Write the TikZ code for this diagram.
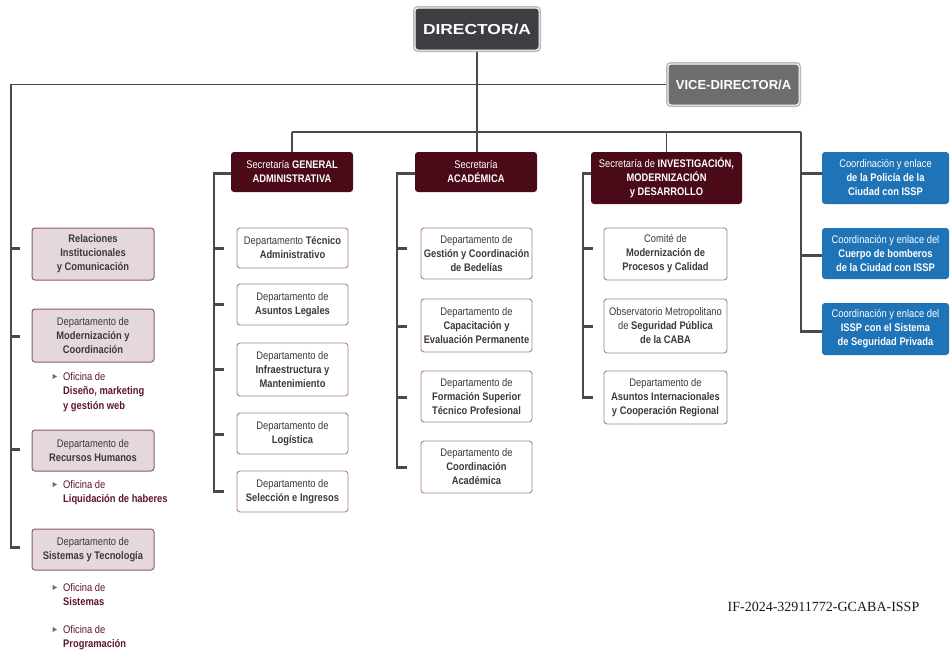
\documentclass[tikz,border=0pt]{standalone}
\usepackage{fontspec}
\setmainfont{Liberation Sans}[FakeStretch=0.85]
\newfontfamily\widefont{Liberation Sans}[FakeStretch=1.2]
\newfontfamily\plainfont{Liberation Sans}
\newfontfamily\serifont{Liberation Serif}
\definecolor{dirdark}{HTML}{3C3E42}
\definecolor{vicegray}{HTML}{6D6D6D}
\definecolor{secred}{HTML}{4B0A17}
\definecolor{lcfill}{HTML}{E5D8DC}
\definecolor{lcdraw}{HTML}{8E5A67}
\definecolor{deptdraw}{HTML}{A9808A}
\definecolor{blueone}{HTML}{1F73B7}
\definecolor{linegray}{HTML}{4A4A4A}
\definecolor{txtgray}{HTML}{3A3A3A}
\definecolor{ofired}{HTML}{5E1726}
\pgfdeclarelayer{bg}
\pgfsetlayers{bg,main}
\begin{document}
\begin{tikzpicture}[x=1pt,y=-1pt,
  basebox/.style={inner sep=0pt, align=center, rounded corners=3pt, font=\fontsize{11}{14}\selectfont},
  secbox/.style={basebox, fill=secred, text=white},
  deptbox/.style={basebox, fill=white, draw=deptdraw, line width=0.9pt, text=txtgray},
  lcbox/.style={basebox, fill=lcfill, draw=lcdraw, line width=1pt, text=txtgray},
  bluebox/.style={basebox, fill=blueone, text=white},
  topbox/.style={basebox, draw=white, line width=1pt, preaction={draw=gray!55, line width=4pt}, text=white},
  ofitext/.style={inner sep=0pt, align=left, anchor=north west, text=ofired, font=\fontsize{11}{14.5}\selectfont},
  conn/.style={draw=linegray, line width=1.4pt},
  tickline/.style={draw=linegray, line width=3pt},
  bullet/.style={fill=linegray!80}
]
\useasboundingbox (0,0) rectangle (952,653);

% top
\node[topbox, fill=dirdark, minimum width=124pt, minimum height=42pt, font=\widefont\bfseries\fontsize{14.5}{16}\selectfont] (dir) at (477,29) {DIRECTOR/A};
\node[topbox, fill=vicegray, minimum width=131pt, minimum height=41pt, font=\plainfont\bfseries\fontsize{13}{15}\selectfont] (vice) at (733.5,84.5) {VICE-DIRECTOR/A};

% secretarias
\node[secbox, minimum width=122pt, minimum height=40pt] (sg) at (292,172) {Secretaría \textbf{GENERAL}\\\textbf{ADMINISTRATIVA}};
\node[secbox, minimum width=122pt, minimum height=40pt] (sa) at (476,172) {Secretaría\\\textbf{ACADÉMICA}};
\node[secbox, minimum width=151pt, minimum height=52pt] (si) at (666.5,178) {Secretaría de \textbf{INVESTIGACIÓN,}\\\textbf{MODERNIZACIÓN}\\\textbf{y DESARROLLO}};

% general administrativa
\node[deptbox, minimum width=111pt, minimum height=40pt] (g1) at (292.5,248) {Departamento \textbf{Técnico}\\\textbf{Administrativo}};
\node[deptbox, minimum width=111pt, minimum height=41pt] (g2) at (292.5,304.5) {Departamento de\\\textbf{Asuntos Legales}};
\node[deptbox, minimum width=111pt, minimum height=53pt] (g3) at (292.5,369.5) {Departamento de\\\textbf{Infraestructura y}\\\textbf{Mantenimiento}};
\node[deptbox, minimum width=111pt, minimum height=41pt] (g4) at (292.5,433.5) {Departamento de\\\textbf{Logística}};
\node[deptbox, minimum width=111pt, minimum height=41pt] (g5) at (292.5,491.5) {Departamento de\\\textbf{Selección e Ingresos}};

% academica
\node[deptbox, minimum width=111pt, minimum height=51pt] (a1) at (476.5,253.5) {Departamento de\\\textbf{Gestión y Coordinación}\\\textbf{de Bedelías}};
\node[deptbox, minimum width=111pt, minimum height=53pt] (a2) at (476.5,325.5) {Departamento de\\\textbf{Capacitación y}\\\textbf{Evaluación Permanente}};
\node[deptbox, minimum width=111pt, minimum height=51pt] (a3) at (476.5,396.5) {Departamento de\\\textbf{Formación Superior}\\\textbf{Técnico Profesional}};
\node[deptbox, minimum width=111pt, minimum height=52pt] (a4) at (476.5,467) {Departamento de\\\textbf{Coordinación}\\\textbf{Académica}};

% investigacion
\node[deptbox, minimum width=123pt, minimum height=52pt] (i1) at (665.5,254) {Comité de\\\textbf{Modernización de}\\\textbf{Procesos y Calidad}};
\node[deptbox, minimum width=123pt, minimum height=54pt] (i2) at (665.5,326) {Observatorio Metropolitano\\de \textbf{Seguridad Pública}\\\textbf{de la CABA}};
\node[deptbox, minimum width=123pt, minimum height=53pt] (i3) at (665.5,397.5) {Departamento de\\\textbf{Asuntos Internacionales}\\\textbf{y Cooperación Regional}};

% blue column
\node[bluebox, minimum width=127pt, minimum height=52pt] (b1) at (885.5,178) {Coordinación y enlace\\\textbf{de la Policía de la}\\\textbf{Ciudad con ISSP}};
\node[bluebox, minimum width=127pt, minimum height=51pt] (b2) at (885.5,253.5) {Coordinación y enlace del\\\textbf{Cuerpo de bomberos}\\\textbf{de la Ciudad con ISSP}};
\node[bluebox, minimum width=127pt, minimum height=52pt] (b3) at (885.5,329) {Coordinación y enlace del\\\textbf{ISSP con el Sistema}\\\textbf{de Seguridad Privada}};

% left column
\node[lcbox, minimum width=122pt, minimum height=52pt] (l1) at (93,254) {\textbf{Relaciones}\\\textbf{Institucionales}\\\textbf{y Comunicación}};
\node[lcbox, minimum width=122pt, minimum height=53pt] (l2) at (93,335.5) {Departamento de\\\textbf{Modernización y}\\\textbf{Coordinación}};
\node[lcbox, minimum width=122pt, minimum height=41pt] (l3) at (93,450.5) {Departamento de\\\textbf{Recursos Humanos}};
\node[lcbox, minimum width=122pt, minimum height=41pt] (l4) at (93,549.5) {Departamento de\\\textbf{Sistemas y Tecnología}};

% oficinas
\node[ofitext] (o1) at (63,372) {Oficina de\\\textbf{Diseño, marketing}\\\textbf{y gestión web}};
\node[ofitext] (o2) at (63,480) {Oficina de\\\textbf{Liquidación de haberes}};
\node[ofitext] (o3) at (63,583) {Oficina de\\\textbf{Sistemas}};
\node[ofitext] (o4) at (63,625) {Oficina de\\\textbf{Programación}};
\foreach \c in {376.5,484.5,587.5,629.5}
  \fill[bullet] (52.5,\c-2.6) -- (57,\c) -- (52.5,\c+2.6) -- cycle;

% footer
\node[inner sep=0pt, font=\serifont\fontsize{14}{16}\selectfont, text=black!90] (doc) at (823.5,607) {IF-2024-32911772-GCABA-ISSP};

% connectors
\begin{pgfonlayer}{bg}
\fill[white] (0,0) rectangle (952,653);
\coordinate (busL) at (292,132);
\coordinate (busR) at (801,132);
\draw[conn] (dir.south) -- (dir.south |- sa.north);
\draw[conn] (busL) -- (busR);
\draw[conn] (busL) -- (sg.north);
\draw[conn] (si.north |- busL) -- (si.north);
\coordinate (rt1) at (801,173);
\coordinate (rt2) at (801,255);
\coordinate (rt3) at (801,331);
\draw[conn] (busR) -- (rt3);
\draw[tickline] (800.3,173) -- (rt1 -| b1.west);
\draw[tickline] (800.3,255) -- (rt2 -| b2.west);
\draw[tickline] (800.3,331) -- (rt3 -| b3.west);

% left column line
\coordinate (lTop) at (11,84.5);
\coordinate (lBot) at (11,547);
\draw[conn, line width=1.6pt] (vice.west) -- (lTop) -- (lBot);
\foreach \y in {248,336,449,547}
  \draw[tickline] (10.2,\y) -- (20,\y);

% general column
\coordinate (gTop) at (214,173);
\coordinate (gBot) at (214,491);
\draw[conn] (gTop) -- (gBot);
\draw[tickline] (213.3,173) -- (gTop -| sg.west);
\foreach \y in {248,304,369,434,491}
  \draw[tickline] (213.3,\y) -- (224,\y);

% academica column
\coordinate (aTop) at (397,173);
\coordinate (aBot) at (397,467);
\draw[conn] (aTop) -- (aBot);
\draw[tickline] (396.3,173) -- (aTop -| sa.west);
\foreach \y in {248,326,397,467}
  \draw[tickline] (396.3,\y) -- (407,\y);

% investigacion column
\coordinate (iTop) at (583,173);
\coordinate (iBot) at (583,397);
\draw[conn] (iTop) -- (iBot);
\draw[tickline] (582.3,173) -- (iTop -| si.west);
\foreach \y in {248,326,397}
  \draw[tickline] (582.3,\y) -- (593,\y);
\end{pgfonlayer}
\end{tikzpicture}
\end{document}
